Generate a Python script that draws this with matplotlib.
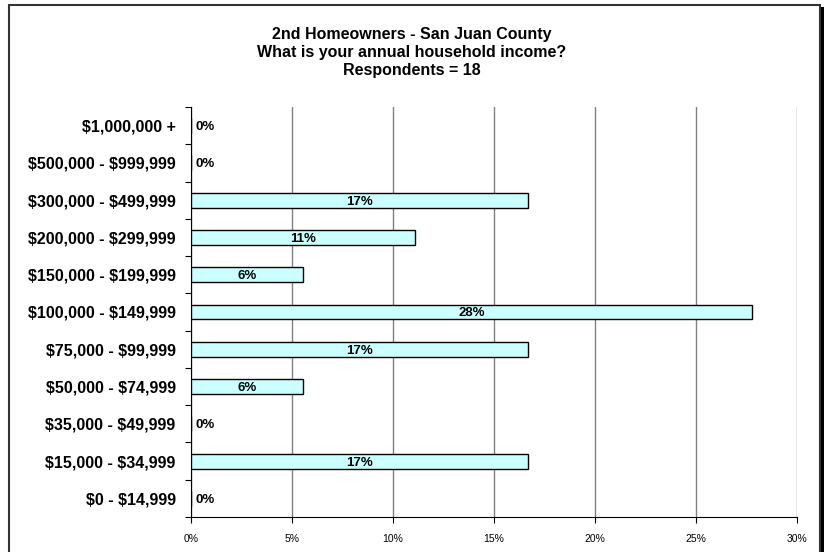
import matplotlib
matplotlib.use("Agg")
import matplotlib.pyplot as plt
from matplotlib.patches import Rectangle
import numpy as np

plt.rcParams['font.family'] = ['Liberation Sans', 'DejaVu Sans']

categories = ["\\$0 - \\$14,999", "\\$15,000 - \\$34,999", "\\$35,000 - \\$49,999", "\\$50,000 - \\$74,999",
              "\\$75,000 - \\$99,999", "\\$100,000 - \\$149,999", "\\$150,000 - \\$199,999",
              "\\$200,000 - \\$299,999", "\\$300,000 - \\$499,999", "\\$500,000 - \\$999,999", "\\$1,000,000 +"]
values = [0.0, 16.67, 0.0, 5.56, 16.67, 27.78, 5.56, 11.11, 16.67, 0.0, 0.0]
labels = ["0%", "17%", "0%", "6%", "17%", "28%", "6%", "11%", "17%", "0%", "0%"]
xticks = [0, 5, 10, 15, 20, 25, 30]
xticklabels = ["0%", "5%", "10%", "15%", "20%", "25%", "30%"]
title_lines = ["2nd Homeowners - San Juan County", "What is your annual household income?", "Respondents = 18"]

fig = plt.figure(figsize=(8.24, 5.52), dpi=100)
# outer frame with shadow
fig.patches.append(Rectangle((12/824, -10/552), 812/824, 555/552, transform=fig.transFigure,
                             facecolor='black', edgecolor='none', zorder=0))
fig.patches.append(Rectangle((8.5/824, -10/552), 811/824, 557/552, transform=fig.transFigure,
                             facecolor='white', edgecolor='#333333', linewidth=1.5, zorder=1))

ax = fig.add_axes([191/824, 1 - 517/552, (797 - 191)/824, (517 - 107)/552])
ax.set_zorder(2)
ax.patch.set_alpha(0)
y = np.arange(len(categories))
ax.barh(y, values, height=0.4, color='#CCFFFF', edgecolor='black', linewidth=1, zorder=3)
for yi, v, lab in zip(y, values, labels):
    if v > 0:
        ax.text(v / 2, yi, lab, ha='center', va='center_baseline', fontsize=9.5, fontweight='bold', zorder=4)
    else:
        ax.text(0.2, yi, lab, ha='left', va='center_baseline', fontsize=9.5, fontweight='bold', zorder=4)

ax.set_xlim(0, 30)
ax.set_ylim(-0.5, len(categories) - 0.5)
ax.set_xticks(xticks)
ax.set_xticklabels(xticklabels, fontsize=7.5)
ax.xaxis.grid(True, color='#808080', linewidth=1, zorder=1)
ax.set_axisbelow(True)

ax.set_yticks(np.arange(-0.5, len(categories), 1))
ax.set_yticklabels([])
ax.set_yticks(y, minor=True)
ax.set_yticklabels(categories, minor=True, fontsize=11.5, fontweight='bold')
ax.tick_params(axis='y', which='minor', length=0, pad=11)
ax.tick_params(axis='y', which='major', length=4, direction='out')
ax.tick_params(axis='x', length=4, direction='out', pad=8)

for s in ['top', 'right']:
    ax.spines[s].set_visible(False)
ax.spines['left'].set_color('black')
ax.spines['bottom'].set_color('black')

ys = [35, 53, 71]
for t, yy in zip(title_lines, ys):
    fig.text(412/824, 1 - yy/552, t, ha='center', va='center', fontsize=11.5, fontweight='bold')

fig.savefig("out.png", dpi=100)
